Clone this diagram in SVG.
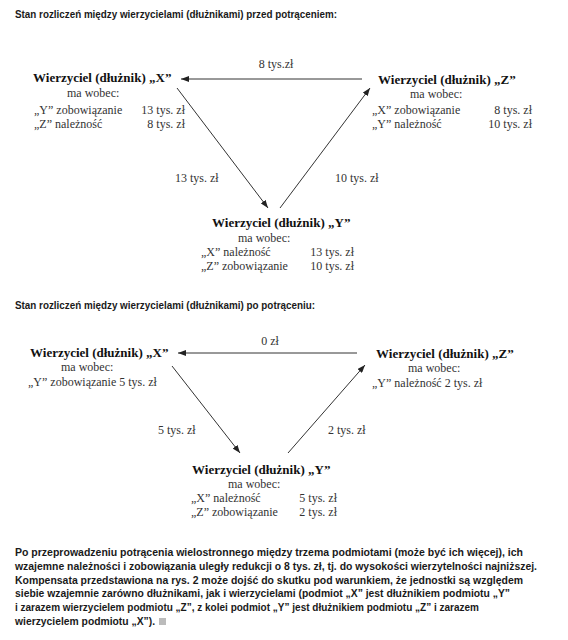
<svg xmlns="http://www.w3.org/2000/svg" width="568" height="640" viewBox="0 0 568 640">
<style>
.h{font-family:"Liberation Sans",Arial,sans-serif;font-weight:bold;font-size:11px;fill:#1a1a1a}
.b{font-family:"Liberation Serif","Times New Roman",serif;font-weight:bold;font-size:13px;fill:#111}
.t{font-family:"Liberation Serif","Times New Roman",serif;font-size:12px;fill:#333}
.e{text-anchor:end}
.c{text-anchor:middle}
.ln{stroke:#333;stroke-width:1;fill:none;marker-end:url(#ah)}
.sq{fill:#bbb}
</style>
<defs>
<marker id="ah" viewBox="0 0 8 6" refX="8" refY="3" markerWidth="8" markerHeight="6" markerUnits="userSpaceOnUse" orient="auto">
<path d="M0,0 L8,3 L0,6 z" fill="#222"/>
</marker>
</defs>
<rect width="568" height="640" fill="#fff"/>
<text class="h" x="15" y="18" textLength="322" lengthAdjust="spacingAndGlyphs">Stan rozliczeń między wierzycielami (dłużnikami) przed potrąceniem:</text>

<g id="connectors1">
<line class="ln" x1="362" y1="79" x2="181" y2="79"/>
<line class="ln" x1="177" y1="88" x2="268" y2="208"/>
<line class="ln" x1="280" y1="208" x2="370" y2="88"/>
<text class="t c" x="276" y="68">8 tys.zł</text>
<text class="t" x="175" y="182">13 tys. zł</text>
<text class="t" x="335" y="182">10 tys. zł</text>
</g>
<g id="node-X1">
<text class="b" x="33" y="82">Wierzyciel (dłużnik) „X”</text>
<text class="t" x="67" y="97">ma wobec:</text>
<text class="t" x="34" y="114">„Y” zobowiązanie</text>
<text class="t e" x="185" y="114">13 tys. zł</text>
<text class="t" x="34" y="128">„Z” należność</text>
<text class="t e" x="185" y="128">8 tys. zł</text>
</g>
<g id="node-Z1">
<text class="b" x="378" y="84">Wierzyciel (dłużnik) „Z”</text>
<text class="t" x="410" y="98">ma wobec:</text>
<text class="t" x="372" y="114">„X” zobowiązanie</text>
<text class="t e" x="532" y="114">8 tys. zł</text>
<text class="t" x="372" y="128">„Y” należność</text>
<text class="t e" x="532" y="128">10 tys. zł</text>
</g>
<g id="node-Y1">
<text class="b" x="212" y="227">Wierzyciel (dłużnik) „Y”</text>
<text class="t" x="238" y="242">ma wobec:</text>
<text class="t" x="201" y="256">„X” należność</text>
<text class="t e" x="354" y="256">13 tys. zł</text>
<text class="t" x="201" y="270">„Z” zobowiązanie</text>
<text class="t e" x="354" y="270">10 tys. zł</text>
</g>

<text class="h" x="15" y="309" textLength="300" lengthAdjust="spacingAndGlyphs">Stan rozliczeń między wierzycielami (dłużnikami) po potrąceniu:</text>

<g id="connectors2">
<line class="ln" x1="357" y1="353" x2="178" y2="353"/>
<line class="ln" x1="172" y1="366" x2="240" y2="453"/>
<line class="ln" x1="288" y1="453" x2="365" y2="365"/>
<text class="t c" x="270" y="345">0 zł</text>
<text class="t" x="158" y="434">5 tys. zł</text>
<text class="t" x="328" y="434">2 tys. zł</text>
</g>
<g id="node-X2">
<text class="b" x="30" y="357">Wierzyciel (dłużnik) „X”</text>
<text class="t" x="61" y="371">ma wobec:</text>
<text class="t" x="28" y="386">„Y” zobowiązanie 5 tys. zł</text>
</g>
<g id="node-Z2">
<text class="b" x="376" y="358">Wierzyciel (dłużnik) „Z”</text>
<text class="t" x="408" y="372">ma wobec:</text>
<text class="t" x="372" y="387">„Y” należność 2 tys. zł</text>
</g>
<g id="node-Y2">
<text class="b" x="192" y="474">Wierzyciel (dłużnik) „Y”</text>
<text class="t" x="228" y="488">ma wobec:</text>
<text class="t" x="191" y="502">„X” należność</text>
<text class="t e" x="337" y="502">5 tys. zł</text>
<text class="t" x="191" y="516">„Z” zobowiązanie</text>
<text class="t e" x="337" y="516">2 tys. zł</text>
</g>

<g id="note">
<text class="h" x="15" y="556" textLength="508" lengthAdjust="spacingAndGlyphs">Po przeprowadzeniu potrącenia wielostronnego między trzema podmiotami (może być ich więcej), ich</text>
<text class="h" x="15" y="570" textLength="522" lengthAdjust="spacingAndGlyphs">wzajemne należności i zobowiązania uległy redukcji o 8 tys. zł, tj. do wysokości wierzytelności najniższej.</text>
<text class="h" x="15" y="584" textLength="508" lengthAdjust="spacingAndGlyphs">Kompensata przedstawiona na rys. 2 może dojść do skutku pod warunkiem, że jednostki są względem</text>
<text class="h" x="15" y="597" textLength="495" lengthAdjust="spacingAndGlyphs">siebie wzajemnie zarówno dłużnikami, jak i wierzycielami (podmiot „X” jest dłużnikiem podmiotu „Y”</text>
<text class="h" x="15" y="611" textLength="464" lengthAdjust="spacingAndGlyphs">i zarazem wierzycielem podmiotu „Z”, z kolei podmiot „Y” jest dłużnikiem podmiotu „Z” i zarazem</text>
<text class="h" x="15" y="625" textLength="140" lengthAdjust="spacingAndGlyphs">wierzycielem podmiotu „X”).</text>
<rect class="sq" x="159" y="618" width="7" height="7"/>
</g>
</svg>
